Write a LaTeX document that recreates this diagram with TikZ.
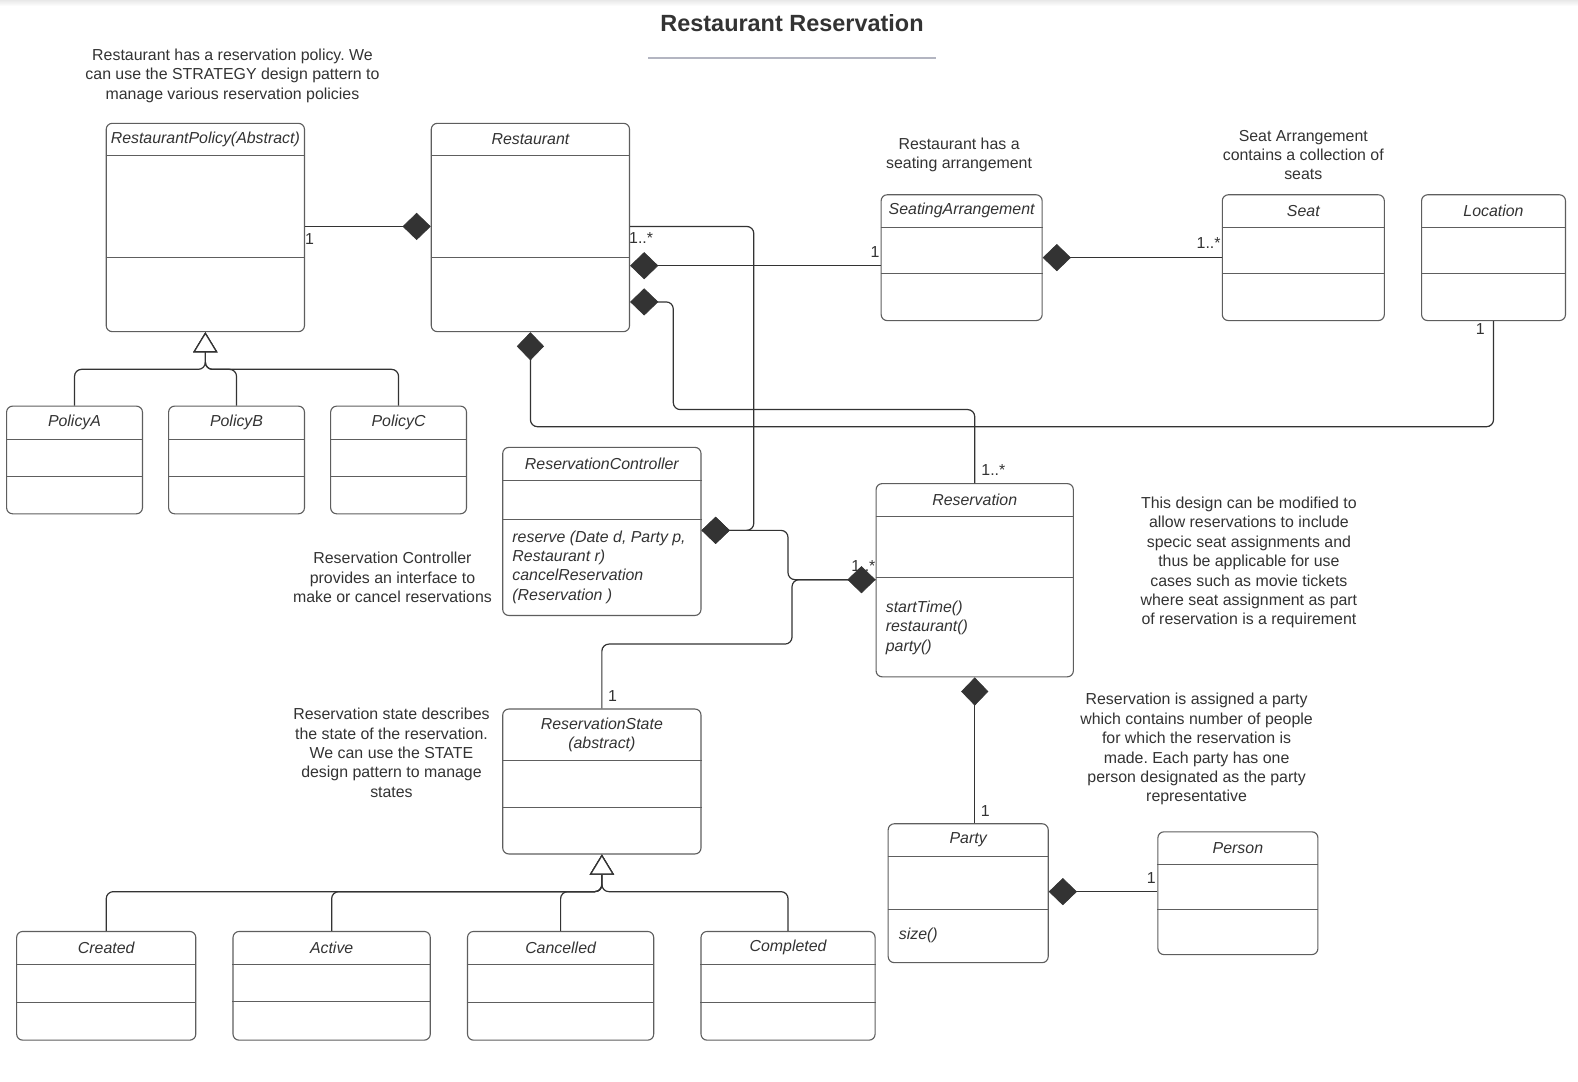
\documentclass[tikz,border=0pt]{standalone}
\usepackage{fontspec}
\setmainfont{Liberation Sans}
\frenchspacing
\usetikzlibrary{arrows.meta}

\definecolor{ink}{HTML}{333333}
\definecolor{edge}{HTML}{5E5E5E}
\definecolor{rule}{HTML}{B3B5C1}

\tikzset{
  txt/.style={font=\fontsize{15.8pt}{19.3pt}\selectfont, text=ink, inner sep=0pt},
  note/.style={txt, align=center},
  cname/.style={txt, font=\fontsize{15.8pt}{19.3pt}\selectfont\itshape, align=center},
  ops/.style={txt, font=\fontsize{15.8pt}{19.3pt}\selectfont\itshape, align=left},
  mult/.style={txt},
  classbox/.style={draw=edge, line width=1.1pt, rounded corners=6pt, anchor=north west, inner sep=0pt, fill=white},
  compart/.style={draw=edge, line width=1pt},
  wire/.style={draw=ink, line width=1.2pt, rounded corners=7pt},
  comp/.style={wire, -{Diamond[length=28pt, width=27pt, fill=ink, line width=0.6pt]}},
  gen/.style={wire, -{Triangle[open, length=20pt, width=24pt, fill=white]}},
}

% class box: name, x, y, width, height, header height, divider offset, title
\newcommand{\umlclass}[8]{%
  \node[classbox, minimum width=#4pt, minimum height=#5pt] (#1) at (#2,#3) {};
  \draw[compart] ([yshift=-#6pt]#1.north west) -- ([yshift=-#6pt]#1.north east);
  \draw[compart] ([yshift=-#7pt]#1.north west) -- ([yshift=-#7pt]#1.north east);
  \node[cname] (#1-name) at ([yshift=-#6pt/2]#1.north) {#8};
}

\begin{document}
\begin{tikzpicture}[x=1pt, y=-1pt]
\useasboundingbox (0,0) rectangle (1568,1075);
\fill[white] (0,0) rectangle (1568,1075);
\shade[top color=black!9, bottom color=white] (0,0) rectangle (1568,6);

% title
\node[txt, font=\fontsize{23.3pt}{28pt}\selectfont\bfseries] (title) at (787,23) {Restaurant Reservation};
\draw[rule, line width=2pt] (644,58) -- (930,58);

% classes
\umlclass{pol}{105}{122}{197}{207}{33}{134}{RestaurantPolicy(Abstract)}
\umlclass{rest}{428}{122}{197}{207}{33}{134}{Restaurant}
\umlclass{sa}{875}{193}{160}{125}{33}{79}{SeatingArrangement}
\umlclass{seat}{1214}{193}{161}{125}{33}{79}{Seat}
\umlclass{loc}{1412}{193}{143}{125}{33}{79}{Location}
\umlclass{pa}{6}{403}{135}{107}{34}{70}{PolicyA}
\umlclass{pb}{167}{403}{135}{107}{34}{70}{PolicyB}
\umlclass{pc}{328}{403}{135}{107}{34}{70}{PolicyC}
\umlclass{rc}{499}{444}{197}{167}{33}{72}{ReservationController}
\umlclass{res}{870}{480}{196}{192}{33}{94}{Reservation}
\umlclass{rs}{499}{704}{197}{144}{52}{98}{ReservationState\\(abstract)}
\umlclass{party}{882}{818}{159}{138}{33}{86}{Party}
\umlclass{person}{1150}{826}{159}{122}{33}{78}{Person}
\umlclass{created}{16}{925}{178}{108}{33}{71}{Created}
\umlclass{active}{231}{925}{196}{108}{33}{70}{Active}
\umlclass{cancel}{464}{925}{185}{108}{33}{71}{Cancelled}
\umlclass{compl}{696}{925}{173}{108}{33}{71}{Completed}

% operations
\node[ops, anchor=north west] (rc-ops) at (509,527) {reserve (Date d, Party p,\\Restaurant r)\\cancelReservation\\(Reservation )};
\node[ops, anchor=north west] (res-ops) at (880,597) {startTime()\\restaurant()\\party()};
\node[ops, anchor=west] (party-ops) at (893,929.5) {size()};

% compositions
\draw[comp] (pol.east |- 0,225) -- (rest.west |- 0,225);
\draw[comp] (sa.west |- 0,264) -- (rest.east |- 0,264);
\draw[comp] (rest.east |- 0,225) -- (749,225) -- (749,527) -- (rc.east |- 0,527);
\draw[comp] (res.west |- 0,576) -- (783,576) -- (783,527) -- (rc.east |- 0,527);
\draw[comp] (rs.north) -- (rs.north |- 0,640) -- (787,640) -- (787,576) -- (res.west |- 0,576);
\draw[comp] (res.south |- party.north) -- (res.south);
\draw[comp] (loc.south) -- (loc.south |- 0,424) -- (rest.south |- 0,424) -- (rest.south);
\draw[comp] (res.north) -- (res.north |- 0,407) -- (669,407) -- (669,300) -- (rest.east |- 0,300);
\draw[comp] (seat.west |- 0,256) -- (sa.east |- 0,256);
\draw[comp] (person.west |- 0,886) -- (party.east |- 0,886);

% generalizations
\foreach \c in {pa,pb,pc}
  \draw[gen] (\c.north) -- (\c.north |- 0,367) -- (pol.south |- 0,367) -- (pol.south);
\foreach \c in {created,active,cancel,compl}
  \draw[gen] (\c.north) -- (\c.north |- 0,886) -- (rs.south |- 0,886) -- (rs.south);

% multiplicities
\node[mult, anchor=west] (m1) at (303,238) {1};
\node[mult, anchor=west] (m2) at (625,237) {1..*};
\node[mult, anchor=east] (m3) at (874,250) {1};
\node[mult, anchor=east] (m4) at (1213,241) {1..*};
\node[mult] (m5) at (1471,327) {1};
\node[mult, anchor=west] (m6) at (975,467) {1..*};
\node[mult, anchor=east] (m7) at (870,562) {1..*};
\node[mult, anchor=west] (m8) at (604,692) {1};
\node[mult] (m9) at (979,806) {1};
\node[mult] (m10) at (1144,872) {1};

% notes
\node[note] (n1) at (231,75) {Restaurant has a reservation policy. We\\can use the STRATEGY design pattern to\\manage various reservation policies};
\node[note] (n2) at (953,154) {Restaurant has a\\seating arrangement};
\node[note] (n3) at (1295,154) {Seat Arrangement\\contains a collection of\\seats};
\node[note] (n4) at (1241,559) {This design can be modified to\\allow reservations to include\\specic seat assignments and\\thus be applicable for use\\cases such as movie tickets\\where seat assignment as part\\of reservation is a requirement};
\node[note] (n5) at (390,574) {Reservation Controller\\provides an interface to\\make or cancel reservations};
\node[note] (n6) at (389,748) {Reservation state describes\\the state of the reservation.\\We can use the STATE\\design pattern to manage\\states};
\node[note] (n7) at (1189,744.5) {Reservation is assigned a party\\which contains number of people\\for which the reservation is\\made. Each party has one\\person designated as the party\\representative};
\end{tikzpicture}
\end{document}
